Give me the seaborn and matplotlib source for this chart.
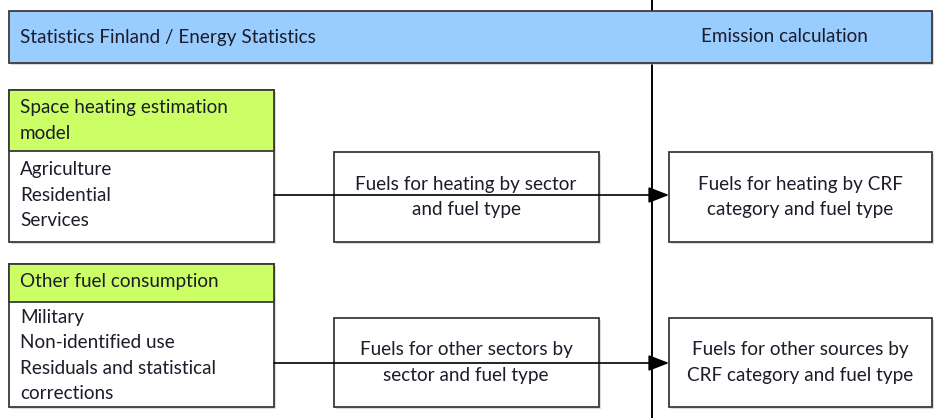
import seaborn as sns
import matplotlib.pyplot as plt
from matplotlib.patches import Rectangle

# Texts of the diagram
banner_left = "Statistics Finland / Energy Statistics"
banner_right = "Emission calculation"
source_titles = [["Space heating estimation", "model"], ["Other fuel consumption"]]
source_items = [
    ["Agriculture", "Residential", "Services"],
    ["Military", "Non-identified use", "Residuals and statistical", "corrections"],
]
middle_texts = [
    ["Fuels for heating by sector", "and fuel type"],
    ["Fuels for other sectors by", "sector and fuel type"],
]
right_texts = [
    ["Fuels for heating by CRF", "category and fuel type"],
    ["Fuels for other sources by", "CRF category and fuel type"],
]

# Layout in pixels (y downwards)
W, H = 938, 418
BLUE = "#99ccff"
GREEN = "#ccff66"
EDGE = "#3a3a3a"
TXT = "#1c1c2a"
FS = 13.6
STEP = 25.5

sns.set_theme(style="white")
plt.rcParams["font.family"] = ["Lato", "DejaVu Sans"]

fig = plt.figure(figsize=(W / 100, H / 100), dpi=100)
ax = fig.add_axes([0, 0, 1, 1])
ax.set_xlim(0, W)
ax.set_ylim(H, 0)
ax.axis("off")


def box(x0, y0, x1, y1, color="white", z=2):
    ax.add_patch(Rectangle((x0 + 2, y0 + 2), x1 - x0, y1 - y0, facecolor="#bbbbbb",
                           edgecolor="none", zorder=z - 0.5, alpha=0.5))
    ax.add_patch(Rectangle((x0, y0), x1 - x0, y1 - y0, facecolor=color,
                           edgecolor=EDGE, lw=1.3, zorder=z))


def lines(x, y0, texts, ha="left"):
    for i, t in enumerate(texts):
        ax.text(x, y0 + i * STEP, t, ha=ha, va="center", fontsize=FS,
                color=TXT, zorder=5)


# divider between the two organisations
ax.plot([652, 652], [0, H], color="black", lw=1.4, zorder=1)

# banner
box(9, 11, 932, 63, BLUE, z=3)
ax.text(20, 37, banner_left, ha="left", va="center", fontsize=FS, color=TXT, zorder=5)
ax.text(701, 37, banner_right, ha="left", va="center", fontsize=FS, color=TXT, zorder=5)

# source boxes: (top, header bottom, bottom)
src_pos = [(90, 151, 242), (264, 302, 407)]
src_text_y = [(108, 170), (282, 317)]
for k, ((top, mid, bot), (ty, iy)) in enumerate(zip(src_pos, src_text_y)):
    box(9, top, 274, bot, "white")
    ax.add_patch(Rectangle((9, top), 265, mid - top, facecolor=GREEN,
                           edgecolor=EDGE, lw=1.3, zorder=2.1))
    lines(20, ty, source_titles[k])
    lines(20, iy, source_items[k])

# middle and right boxes + arrows
row_pos = [(152, 242, 195), (318, 407, 363)]
for k, (top, bot, ay) in enumerate(row_pos):
    box(334, top, 599, bot)
    box(669, top, 932, bot)
    lines(466, (top + bot) / 2 - 12.5, middle_texts[k], ha="center")
    lines(800, (top + bot) / 2 - 12.5, right_texts[k], ha="center")
    ax.annotate("", xy=(669, ay), xytext=(274, ay),
                arrowprops=dict(arrowstyle="-|>,head_length=0.9,head_width=0.35",
                                color="black", lw=1.2, shrinkA=0, shrinkB=0,
                                mutation_scale=14),
                zorder=6)

fig.savefig("out.png", dpi=100)
